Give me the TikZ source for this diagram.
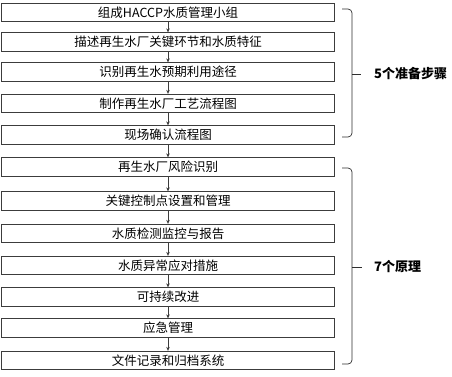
\documentclass[tikz,border=0pt]{standalone}
\usepackage{fontspec}
\setmainfont{Noto Sans CJK SC}
\usepackage{tikz}
\usetikzlibrary{arrows.meta,positioning}
\definecolor{boxline}{HTML}{3C3C3C}
\definecolor{bracket}{HTML}{2E2E2E}

\begin{document}
\begin{tikzpicture}[x=1pt,y=-1pt,
    stepbox/.style={draw=boxline,line width=0.8pt,minimum width=333.5pt,minimum height=18.5pt,inner sep=0pt,font=\fontsize{12.5}{14}\selectfont},
    flow/.style={-{Stealth[length=4pt,width=3.5pt]},color=boxline,line width=0.6pt},
    brace/.style={draw=bracket,line width=0.7pt,rounded corners=4pt},
    grouplabel/.style={anchor=west,inner sep=0pt,font=\fontsize{13}{15}\selectfont\bfseries}]
        \useasboundingbox (0,0) rectangle (452,376);
        \foreach \i/\y/\txt in {1/12.5/组成HACCP水质管理小组,2/42/描述再生水厂关键环节和水质特征,3/72/识别再生水预期利用途径,4/103.5/制作再生水厂工艺流程图,5/135/现场确认流程图,6/167/再生水厂风险识别,7/201/关键控制点设置和管理,8/233.5/水质检测监控与报告,9/265.5/水质异常应对措施,10/297/可持续改进,11/328/应急管理,12/360.5/文件记录和归档系统}{
          \node[stepbox] (s\i) at (168,\y) {\txt};
        }
        \foreach \i [evaluate=\i as \j using int(\i+1)] in {1,...,11}{
          \draw[flow] (s\i) -- (s\j);
        }
        % brackets on the right
        \draw[brace] (342,9) -- (352,9) -- (352,137) -- (342,137);
        \draw[brace] (352,74) -- (361,74);
        \node[grouplabel] (prep) at (374,74) {5个准备步骤};
        \draw[brace] (342,168) -- (352,168) -- (352,364) -- (342,364);
        \draw[brace] (352,267) -- (362,267);
        \node[grouplabel] (prin) at (374,267) {7个原理};
      \end{tikzpicture}
\end{document}
